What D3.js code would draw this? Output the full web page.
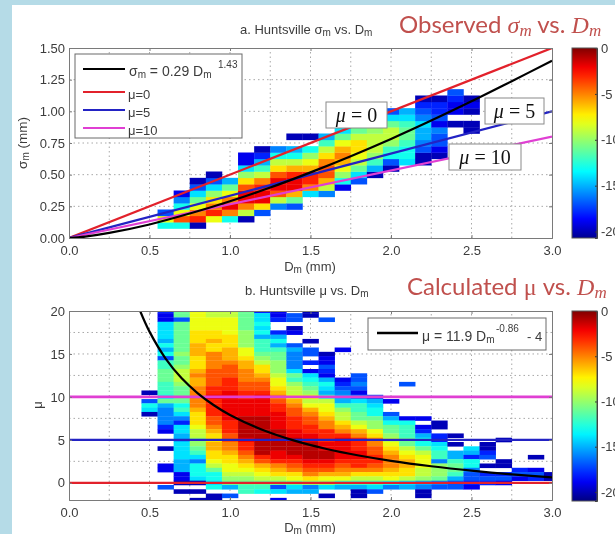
<!DOCTYPE html>
<html><head><meta charset="utf-8">
<script src="https://cdn.jsdelivr.net/npm/d3@7/dist/d3.min.js"></script>
<style>
html,body{margin:0;padding:0;background:#b5dbe7;overflow:hidden}
svg{display:block;filter:blur(0.4px)}
text{font-family:"Liberation Sans",Arial,sans-serif;fill:#3c3c3c}
</style></head><body>
<svg id="c" width="615" height="534"></svg>
<script>
const _ = null;
/* Panel a: log-frequency cells. Dm bin centres, lowest sigma centre of each column, values bottom to top */
const sigmaDm = [0.6,0.7,0.8,0.9,1.0,1.1,1.2,1.3,1.4,1.5,1.6,1.7,1.8,1.9,2.0,2.1,2.2,2.3,2.4,2.5];
const sigmaFirst = [0.10,0.10,0.10,0.15,0.15,0.15,0.20,0.25,0.25,0.35,0.35,0.40,0.45,0.50,0.55,0.60,0.60,0.65,0.90,0.85];
const sigmaVals = [
 [-13,-8,-17],
 [-13,-4,-8,-13,-16,-19],
 [-20,-3,-5,-8,-11,-14,-17,-20],
 [-8,-3,-5,-7,-10,-14,-17,-20],
 [-13,-5,-2,-5,-8,-11,-15],
 [-20,-9,-5,-2,-2,-4,-7,-10,-14,-19,-19],
 [-17,-7,-2,-2,-3,-5,-9,-12,-15,-18,-20],
 [-16,-9,-4,-2,-2,-4,-7,-9,-13,-16],
 [-17,-11,-6,-2,-2,-3,-6,-9,-13,-15,_,-20],
 [-14,-5,-3,-3,-6,-8,-10,-13,_,-20],
 [-16,-9,-6,-4,-4,-5,-7,-9,-12,-15],
 [-19,-13,-10,-8,-6,-5,-6,-8,-11,-14],
 [-17,-14,-11,-9,-8,-7,-7,-9,-11,-14],
 [-20,-15,-12,-10,-9,-9,-9,-10,-12,-14],
 [-20,-17,-13,-12,-10,-9,-9,-11,-14,-17],
 [-14,-13,-13,-12,-11,-11,-12,-14,-15],
 [-20,-20,-17,-16,-15,-15,-14,-16,-17,-18,-20],
 [-20,-19,-17,-17,-16,-19,-17,-18,-18,-20],
 [-20,_,-19,-19,-18,-17],
 [-20,-20,_,-20,-19,-20]
];
/* Panel b: Dm bin centres, highest mu centre of each column, values top to bottom */
const muDm = [0.5,0.6,0.7,0.8,0.9,1.0,1.1,1.2,1.3,1.4,1.5,1.6,1.7,1.8,1.9,2.0,2.1,2.2,2.3,2.4,2.5,2.6,2.7,2.8,2.9,3.0];
const muFirst = [10.5,20,20,20,20,20,20,20,20,19.5,20,19,15.5,12.5,10,9.5,11.5,7.5,7,5.5,4,4.5,5,1.5,3,1];
const muVals = [
 [-20,_,-17,-13,-14,-20],
 [-18,-19,-19,-14,-14,-14,-14,-15,-13,-15,-13,-17,-12,-12,-11,-11,-11,-12,-12,-12,-13,-11,-15,-16,-16,-16,-16,-18,-19,_,_,_,-20,_,_,_,-19,-19,_,_,_,-17],
 [-11,-11,-17,-11,-11,-11,-11,-11,-11,-11,-10,-11,-11,-10,-9,-9,-9,-10,-11,-11,-11,-11,-13,-12,-14,-16,-18,-14,-14,-15,-15,-14,-14,-14,-14,-15,-15,-15,-19,-19,-20,_,-20],
 [-8,-8,-8,-8,-8,-7,-7,-7,-6,-6,-6,-7,-7,-7,-6,-5,-6,-6,-5,-5,-5,-5,-5,-6,-7,-7,-7,-8,-9,-9,-10,-10,-11,-12,-14,-16,-13,-13,-13,-14,-20,_,-20,_,-20],
 [-9,-9,-8,-8,-8,-7,-7,-6,-7,-7,-5,-5,-5,-5,-4,-4,-4,-4,-3,-3,-2,-3,-3,-3,-3,-4,-4,-5,-6,-7,-7,-6,-6,-7,-7,-8,-9,-11,-13,-13,-14,-13,_,-20,-20],
 [-9,-9,-8,-8,-8,-8,-7,-7,-7,-6,-6,-6,-5,-4,-4,-4,-3,-3,-3,-2,-2,-2,-2,-2,-2,-2,-3,-3,-3,-4,-4,-5,-5,-6,-7,-7,-8,-8,-9,-10,-11,-15,_,-17],
 [-11,-11,-11,-11,-11,-10,-10,-10,-10,-8,-8,-7,-6,-6,-5,-5,-5,-4,-4,-3,-3,-2,-2,-2,-2,-1,-1,-1,-1,-1,-2,-3,-3,-4,-5,-6,-7,-8,-9,-10,-11,-12,-12],
 [-18,-14,-14,-13,-14,-13,-15,-12,-12,-12,-11,-10,-9,-7,-7,-6,-5,-4,-4,-3,-2,-2,-2,-2,-2,-1,-1,-1,-1,-1,-1,-1,-1,-1,-3,-4,-6,-7,-8,-9,-11,-12,-13],
 [-19,-19,-18,_,_,-18,-15,-13,-15,-12,-11,-11,-10,-10,-10,-9,-8,-8,-7,-6,-5,-4,-3,-3,-2,-2,-2,-2,-1,-1,-1,-1,-1,-2,-2,-3,-5,-6,-7,-9,-11,-17,-14,_,-19],
 [-17,-17,_,-20,-19,_,_,-17,-15,-16,-16,-16,-16,-14,-11,-12,-10,-9,-9,-8,-6,-5,-4,-4,-3,-3,-3,-2,-2,-1,-1,-1,-1,-2,-3,-4,-5,-7,-8,-11,-14,-15],
 [-20,-20,_,_,_,_,_,-20,_,-17,-17,_,-18,_,-19,-14,-13,-12,-11,-10,-8,-9,-8,-6,-5,-4,-4,-3,-3,-2,-2,-1,-1,-1,-1,-2,-3,-4,-5,-7,-10,-16,-15],
 [-17,_,_,_,_,_,_,_,-20,-19,-19,-17,-18,-19,-15,-13,-14,-15,-12,-9,-8,-8,-7,-6,-5,-5,-3,-3,-3,-2,-2,-1,-1,-2,-3,-4,-6,-8,-10,-14,_,-20],
 [-19,_,_,_,_,_,_,-19,-18,-17,-16,-15,-15,-12,-10,-9,-9,-7,-6,-5,-3,-2,-2,-2,-2,-2,-3,-4,-5,-6,-8,-12,-15],
 [-17,-17,-16,-17,-19,-16,-14,-12,-12,-11,-11,-9,-8,-6,-5,-3,-3,-3,-2,-2,-3,-3,-5,-7,-9,-12,-15,-20,-20],
 [-17,-15,-14,-13,-13,-11,-10,-10,-8,-7,-5,-5,-4,-4,-3,-3,-4,-5,-7,-9,-12,-14,-17],
 [-19,_,_,-17,-15,-13,-11,-11,-10,-9,-8,-7,-6,-5,-5,-5,-6,-7,-8,-13,-16],
 [-17,_,_,_,_,_,_,_,-19,-13,-12,-12,-12,-11,-11,-9,-8,-7,-6,-6,-7,-7,-9,-14,-15],
 [-19,_,-19,-18,-15,-13,-13,-11,-9,-8,-8,-8,-9,-9,-10,-15,-16,-20,-20],
 [-20,-20,_,-18,-18,-14,-13,-12,-12,-16,-10,-10,-10,-11,-16,-17],
 [-20,_,-20,_,-15,-15,-12,-11,-11,-12,-15,-17,-17],
 [-14,-15,-18,-13,-13,-16,-17,-17,-18,-19],
 [-20,-20,-18,-17,_,-20,_,-18,-17,-18],
 [-20,_,_,_,_,-20,-20,_,-18,-17,-19],
 [-18,-17,-19],
 [-20,_,_,-19,-17,-18],
 [-20,-20]
];
/* Lines */
const fitADm = [0,0.1,0.25,0.5,0.75,1,1.25,1.5,1.75,2,2.25,2.5,2.75,3];
const fitASigma = [0,0.011,0.040,0.107,0.193,0.29,0.398,0.518,0.646,0.782,0.927,1.079,1.238,1.399];
const muLineDm = [0,3];
const mu0Sigma = [0,1.5];
const mu5Sigma = [0,1.0];
const mu10Sigma = [0,0.80];
const fitBDm = [0.442,0.5,0.6,0.7,0.8,0.9,1,1.2,1.4,1.6,1.8,2,2.25,2.5,2.75,3];
const fitBMu = [20,17.6,14.47,12.17,10.42,9.03,7.9,6.18,4.91,3.94,3.18,2.56,1.93,1.41,0.98,0.63];
const muLevels = [0,5,10];
const muLevelColors = ["#e2212b","#2323c4","#e03fd3"];
const dmTicks = [0,0.5,1,1.5,2,2.5,3];
const dmGrid = [0.25,0.5,0.75,1,1.25,1.5,1.75,2,2.25,2.5,2.75];
const sigmaTicks = [0,0.25,0.5,0.75,1,1.25,1.5];
const muTicks = [0,5,10,15,20];
const muGrid = [2.5,5,7.5,10,12.5,15,17.5];
const cbTicks = [0,-5,-10,-15,-20];

const svg = d3.select("#c");
svg.append("rect").attr("x",12).attr("y",5).attr("width",603).attr("height",529).attr("fill","#fff");

const jet = d3.scaleLinear()
  .domain([-21,-18.7,-13.4,-7.6,-2.3,0])
  .range(["#000080","#0000ff","#00ffff","#ffff00","#ff0000","#800000"]);

const x1 = d3.scaleLinear().domain([0,3]).range([69,552]);
const y1 = d3.scaleLinear().domain([0,1.5]).range([238,48]);
const y2 = d3.scaleLinear().domain([-2,20]).range([500,311]);

const defs = svg.append("defs");
function clip(id,y){ defs.append("clipPath").attr("id",id).append("rect")
  .attr("x",x1.range()[0]).attr("width",x1.range()[1]-x1.range()[0])
  .attr("y",y.range()[1]).attr("height",y.range()[0]-y.range()[1]); }
clip("ca",y1); clip("cb",y2);

function gridFrame(y,yGrid){
  const g = svg.append("g").attr("stroke","#a8a8a8").attr("stroke-width",1).attr("stroke-dasharray","1.5 3");
  g.selectAll("line.v").data(dmGrid).join("line").attr("class","v")
    .attr("x1",d=>x1(d)).attr("x2",d=>x1(d)).attr("y1",y.range()[0]).attr("y2",y.range()[1]);
  g.selectAll("line.h").data(yGrid).join("line").attr("class","h")
    .attr("y1",d=>y(d)).attr("y2",d=>y(d)).attr("x1",x1.range()[0]).attr("x2",x1.range()[1]);
}
gridFrame(y1,sigmaTicks.slice(1,-1));
gridFrame(y2,muGrid);

/* heat cells */
const ga = svg.append("g").attr("clip-path","url(#ca)");
sigmaVals.forEach((col,i)=>col.forEach((v,j)=>{
  if(v===null) return;
  const c = sigmaFirst[i]+j*0.05;
  ga.append("rect").attr("x",x1(sigmaDm[i]-0.05)).attr("width",x1(0.1)-x1(0)+0.3)
    .attr("y",y1(c+0.025)).attr("height",y1(c-0.025)-y1(c+0.025)+0.3).attr("fill",jet(v));
}));
const gb = svg.append("g").attr("clip-path","url(#cb)");
muVals.forEach((col,i)=>col.forEach((v,j)=>{
  if(v===null) return;
  const c = muFirst[i]-j*0.5;
  gb.append("rect").attr("x",x1(muDm[i]-0.05)).attr("width",x1(0.1)-x1(0)+0.3)
    .attr("y",y2(c+0.25)).attr("height",y2(c-0.25)-y2(c+0.25)+0.3).attr("fill",jet(v));
}));

/* lines */
const line = d3.line().x(d=>x1(d[0])).y(d=>y1(d[1]));
const line2 = d3.line().x(d=>x1(d[0])).y(d=>y2(d[1])).curve(d3.curveCatmullRom);
[[mu0Sigma,muLevelColors[0]],[mu5Sigma,muLevelColors[1]],[mu10Sigma,muLevelColors[2]]].forEach(([s,c])=>{
  ga.append("path").attr("d",line(muLineDm.map((d,i)=>[d,s[i]]))).attr("fill","none").attr("stroke",c).attr("stroke-width",2.2);
});
ga.append("path").attr("d",line.curve(d3.curveCatmullRom)(fitADm.map((d,i)=>[d,fitASigma[i]]))).attr("fill","none").attr("stroke","#000").attr("stroke-width",2.2);
muLevels.forEach((m,i)=>{
  gb.append("line").attr("x1",x1(0)).attr("x2",x1(3)).attr("y1",y2(m)).attr("y2",y2(m))
    .attr("stroke",muLevelColors[i]).attr("stroke-width",m===10?2.6:2.2);
});
gb.append("path").attr("d",line2(fitBDm.map((d,i)=>[d,fitBMu[i]]))).attr("fill","none").attr("stroke","#000").attr("stroke-width",2.2);

/* axes */
function axes(y,yTicks,yFmt){
  const ax = d3.axisBottom(x1).tickValues(dmTicks).tickFormat(d3.format(".1f")).tickSize(-3).tickPadding(8);
  const gx = svg.append("g").attr("transform",`translate(0,${y.range()[0]})`).call(ax);
  const ay = d3.axisLeft(y).tickValues(yTicks).tickFormat(yFmt).tickSize(-3).tickPadding(4);
  const gy = svg.append("g").attr("transform",`translate(${x1.range()[0]},0)`).call(ay);
  const ax2 = d3.axisTop(x1).tickValues(dmTicks).tickFormat("").tickSize(-3);
  const gx2 = svg.append("g").attr("transform",`translate(0,${y.range()[1]})`).call(ax2);
  const ay2 = d3.axisRight(y).tickValues(yTicks).tickFormat("").tickSize(-3);
  const gy2 = svg.append("g").attr("transform",`translate(${x1.range()[1]},0)`).call(ay2);
  [gx,gy,gx2,gy2].forEach(g=>{
    g.selectAll("path,line").attr("stroke","#7a7a7a").attr("stroke-width",1);
    g.selectAll("text").attr("font-size",13).attr("font-family",null).style("fill","#3c3c3c");
  });
}
axes(y1,sigmaTicks,d3.format(".2f"));
axes(y2,muTicks,d3.format("d"));

function rich(x,y,parts,attrs){
  const t = svg.append("text").attr("x",x).attr("y",y);
  Object.entries(attrs||{}).forEach(([k,v])=>t.attr(k,v));
  parts.forEach(p=>{
    const s = t.append("tspan").text(p.t);
    if(p.dy) s.attr("dy",p.dy);
    if(p.fs) s.attr("font-size",p.fs);
    if(p.style) s.attr("font-style",p.style);
    if(p.fam) s.style("font-family",p.fam);
    if(p.fill) s.style("fill",p.fill);
  });
  return t;
}
/* chart titles */
rich(240,34,[{t:"a. Huntsville  "},{t:"σ"},{t:"m",dy:2,fs:10},{t:" vs. D",dy:-2},{t:"m",dy:2,fs:10}],{"font-size":13});
rich(245,295,[{t:"b. Huntsville  "},{t:"μ"},{t:" vs. D"},{t:"m",dy:2,fs:10}],{"font-size":13});
rich(310,271,[{t:"D"},{t:"m",dy:2,fs:10},{t:" (mm)",dy:-2}],{"font-size":13,"text-anchor":"middle"});
rich(310,532,[{t:"D"},{t:"m",dy:2,fs:10},{t:" (mm)",dy:-2}],{"font-size":13,"text-anchor":"middle"});
rich(0,0,[{t:"σ"},{t:"m",dy:2,fs:10},{t:" (mm)",dy:-2}],{"font-size":13.5,"text-anchor":"middle",transform:"translate(27,143) rotate(-90)"});
rich(0,0,[{t:"μ"}],{"font-size":13,"text-anchor":"middle",transform:"translate(42,405) rotate(-90)"});

/* red headings */
const red = "#c0504d", serif = '"Liberation Serif",serif';
rich(399,33,[{t:"Observed ",fill:red},{t:"σ",fill:red,style:"italic",fam:serif},{t:"m",fill:red,style:"italic",fam:serif,dy:3,fs:17},{t:" vs. ",fill:red,dy:-3},{t:"D",fill:red,style:"italic",fam:serif},{t:"m",fill:red,style:"italic",fam:serif,dy:3,fs:17}],{"font-size":24,style:"font-family:Lato"});
rich(407,295,[{t:"Calculated ",fill:red},{t:"μ",fill:red,fam:serif},{t:" vs. ",fill:red},{t:"D",fill:red,style:"italic",fam:serif},{t:"m",fill:red,style:"italic",fam:serif,dy:3,fs:17}],{"font-size":24,style:"font-family:Lato"});

/* legend a */
svg.append("rect").attr("x",75).attr("y",54).attr("width",167).attr("height",84).attr("fill","#fff").attr("stroke","#6a6a6a");
const legA = [["#000",69],[muLevelColors[0],92],[muLevelColors[1],110],[muLevelColors[2],128]];
svg.selectAll("line.lg").data(legA).join("line").attr("class","lg").attr("x1",83).attr("x2",125)
  .attr("y1",d=>d[1]).attr("y2",d=>d[1]).attr("stroke",d=>d[0]).attr("stroke-width",2.2);
rich(129,76,[{t:"σ"},{t:"m",dy:2,fs:10},{t:" = 0.29 D",dy:-2},{t:"m",dy:2,fs:10}],{"font-size":14});
rich(218,68,[{t:"1.43"}],{"font-size":10});
["μ=0","μ=5","μ=10"].forEach((t,i)=>rich(128,[99,117,135][i],[{t}],{"font-size":13}));

/* legend b */
svg.append("rect").attr("x",368).attr("y",318).attr("width",178).attr("height",32).attr("fill","#fff").attr("stroke","#6a6a6a");
svg.append("line").attr("x1",377).attr("x2",418).attr("y1",333).attr("y2",333).attr("stroke","#000").attr("stroke-width",2.4);
rich(422,341,[{t:"μ = 11.9 D"},{t:"m",dy:2,fs:10}],{"font-size":14});
rich(496,332,[{t:"-0.86"}],{"font-size":10});
rich(527,341,[{t:"- 4"}],{"font-size":13});

/* mu boxes */
[[326,102,61,26,"0"],[485,98,59,26,"5"],[449,144,72,26,"10"]].forEach(([x,y,w,h,v])=>{
  svg.append("rect").attr("x",x).attr("y",y).attr("width",w).attr("height",h).attr("fill","#fff").attr("stroke","#8a8a8a");
  const t = svg.append("text").attr("x",x+w/2).attr("y",y+20).attr("text-anchor","middle").attr("font-size",20)
    .style("font-family",serif).style("fill","#111");
  t.append("tspan").attr("font-style","italic").text("μ");
  t.append("tspan").text(" = "+v);
});

/* colorbars */
function colorbar(y0,y1b,minV,id){
  const cb = d3.scaleLinear().domain([minV,0]).range([y1b,y0]);
  const grad = defs.append("linearGradient").attr("id",id).attr("x1",0).attr("x2",0).attr("y1",1).attr("y2",0);
  d3.range(0,1.0001,0.05).forEach(f=>{
    grad.append("stop").attr("offset",f).attr("stop-color",jet(minV*(1-f)));
  });
  svg.append("rect").attr("x",572).attr("y",y0).attr("width",25).attr("height",y1b-y0).attr("fill",`url(#${id})`);
  const g = svg.append("g").attr("transform","translate(597,0)").call(d3.axisRight(cb).tickValues(cbTicks).tickFormat(d=>String(d)).tickSize(-2).tickPadding(4));
  g.selectAll("path,line").attr("stroke","#333");
  g.selectAll("text").attr("font-size",13).attr("font-family",null).style("fill","#3c3c3c");
  svg.append("rect").attr("x",572).attr("y",y0).attr("width",25).attr("height",y1b-y0).attr("fill","none").attr("stroke","#555");
}
colorbar(48,238,-20.7,"g1");
colorbar(311,501,-21,"g2");
</script></body></html>
